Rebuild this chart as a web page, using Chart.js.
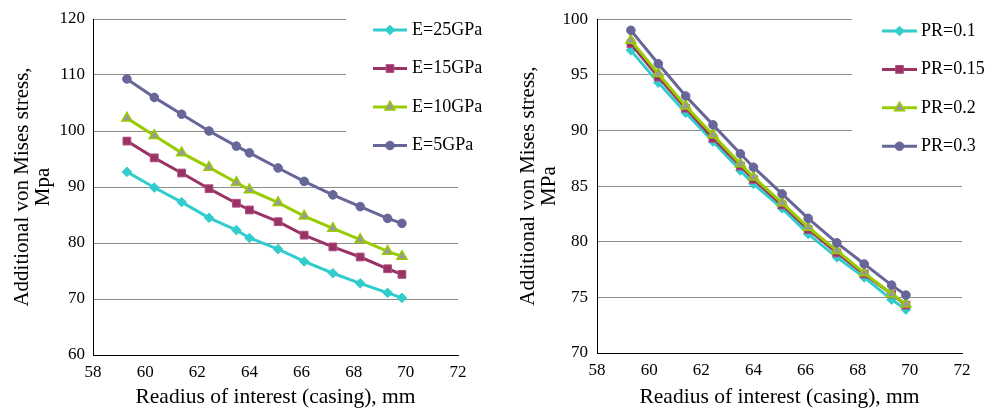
<!DOCTYPE html>
<html>
<head>
<meta charset="utf-8">
<script src="https://cdn.jsdelivr.net/npm/chart.js@4/dist/chart.umd.min.js"></script>
<style>
  html, body { margin: 0; padding: 0; background: #ffffff; }
  #wrap { position: relative; width: 999px; height: 412px; }
  #c1 { position: absolute; left: 0; top: 0; }
  #c2 { position: absolute; left: 500px; top: 0; }
</style>
</head>
<body>
<div id="wrap">
  <canvas id="c1" width="500" height="412"></canvas>
  <canvas id="c2" width="499" height="412"></canvas>
</div>
<script>
// ---- data ----
const radius = [59.3, 60.35, 61.4, 62.45, 63.5, 64.0, 65.1, 66.1, 67.2, 68.25, 69.3, 69.85];

const leftLabels = ['E=25GPa', 'E=15GPa', 'E=10GPa', 'E=5GPa'];
const e25 = [92.7, 89.9, 87.3, 84.5, 82.3, 80.9, 78.9, 76.7, 74.6, 72.8, 71.1, 70.2];
const e15 = [98.2, 95.2, 92.5, 89.7, 87.1, 85.9, 83.8, 81.4, 79.3, 77.5, 75.4, 74.4];
const e10 = [102.3, 99.2, 96.1, 93.5, 90.8, 89.5, 87.2, 84.8, 82.6, 80.6, 78.5, 77.6];
const e5  = [109.3, 106.0, 103.0, 100.0, 97.3, 96.1, 93.4, 91.0, 88.6, 86.5, 84.4, 83.5];

const rightLabels = ['PR=0.1', 'PR=0.15', 'PR=0.2', 'PR=0.3'];
const pr01  = [97.2, 94.3, 91.6, 89.0, 86.4, 85.2, 83.0, 80.7, 78.6, 76.8, 74.8, 73.9];
const pr015 = [97.8, 94.8, 92.0, 89.3, 86.8, 85.6, 83.3, 81.1, 79.0, 77.1, 75.3, 74.3];
const pr02  = [98.1, 95.1, 92.2, 89.6, 87.0, 85.8, 83.5, 81.3, 79.2, 77.2, 75.3, 74.4];
const pr03  = [99.0, 96.0, 93.1, 90.5, 87.9, 86.7, 84.3, 82.1, 79.9, 78.0, 76.1, 75.2];

const xTitle = 'Readius of interest (casing), mm';
const leftYTitle = ['Additional von Mises stress,', 'Mpa'];
const rightYTitle = ['Additional von Mises stress,', 'MPa'];

// ---- styling ----
const FONT = '"Liberation Serif", "Times New Roman", Times, serif';
Chart.defaults.font.family = FONT;
Chart.defaults.color = '#000000';

const styles = [
  { color: '#33CCCC', fill: '#33CCCC', border: '#33CCCC', point: 'rectRot', r: 4.8, bw: 1 },
  { color: '#993366', fill: '#993366', border: '#B04C80', point: 'rect', r: 5.5, bw: 1 },
  { color: '#99CC00', fill: '#999999', border: '#99CC00', point: 'triangle', r: 5.8, bw: 1.5 },
  { color: '#666699', fill: '#666699', border: '#666699', point: 'circle', r: 4.3, bw: 1 }
];

function makeDatasets(labels, series) {
  return series.map((vals, i) => {
    const s = styles[i];
    return {
      label: labels[i],
      data: vals.map((v, j) => ({ x: radius[j], y: v })),
      borderColor: s.color,
      backgroundColor: s.fill,
      borderWidth: 3,
      pointStyle: s.point,
      pointRadius: s.r,
      pointBackgroundColor: s.fill,
      pointBorderColor: s.border,
      pointBorderWidth: s.bw,
      tension: 0,
      order: series.length - i,
      _style: s
    };
  });
}

const boxLegend = {
  id: 'boxLegend',
  beforeDatasetsDraw(chart) {
    const o = chart.options.plugins.boxLegend;
    if (!o) return;
    const ctx = chart.ctx;
    ctx.save();
    ctx.fillStyle = '#ffffff';
    ctx.fillRect(o.bgX, 0, chart.width - o.bgX, o.bgBottom);
    ctx.restore();
  },
  afterDraw(chart) {
    const o = chart.options.plugins.boxLegend;
    if (!o) return;
    const ctx = chart.ctx;
    ctx.save();
    chart.data.datasets.forEach((ds, i) => {
      const s = ds._style;
      const y = o.y0 + i * o.dy;
      ctx.strokeStyle = s.color;
      ctx.lineWidth = 3;
      ctx.beginPath();
      ctx.moveTo(o.x0, y);
      ctx.lineTo(o.x1, y);
      ctx.stroke();
      ctx.fillStyle = s.fill;
      ctx.strokeStyle = s.border;
      ctx.lineWidth = s.bw;
      Chart.helpers.drawPoint(ctx, { pointStyle: s.point, radius: s.r, borderWidth: s.bw, rotation: 0 }, (o.x0 + o.x1) / 2, y);
      ctx.fillStyle = '#000000';
      ctx.font = '18px ' + FONT;
      ctx.textBaseline = 'middle';
      ctx.textAlign = 'left';
      ctx.fillText(ds.label, o.tx, y);
    });
    ctx.restore();
  }
};

function makeChart(id, datasets, yMin, yMax, yStep, yTitle, lay) {
  return new Chart(document.getElementById(id), {
    type: 'line',
    data: { datasets },
    plugins: [boxLegend],
    options: {
      responsive: false,
      animation: false,
      devicePixelRatio: 1,
      layout: { padding: { left: 0, top: lay.top, right: lay.right, bottom: 0 } },
      plugins: {
        legend: { display: false },
        tooltip: { enabled: false },
        boxLegend: lay.legend
      },
      scales: {
        x: {
          type: 'linear',
          min: 58, max: 72,
          ticks: { stepSize: 2, padding: 7, font: { size: 17 }, color: '#000' },
          grid: { display: false, drawTicks: false },
          border: { display: true, color: '#000000', width: 1 },
          title: { display: true, text: xTitle, font: { size: 21.5, lineHeight: 1 }, color: '#000', padding: { top: 0, bottom: 4 } },
          afterFit(scale) { scale.height = lay.xh; }
        },
        y: {
          type: 'linear',
          min: yMin, max: yMax,
          ticks: { stepSize: yStep, padding: lay.ypad, font: { size: 17 }, color: '#000' },
          grid: {
            drawTicks: false,
            lineWidth: 1,
            color: (c) => (c.tick && c.tick.value === yMin) ? 'rgba(0,0,0,0)' : '#8C8C8C'
          },
          border: { display: true, color: '#000000', width: 1 },
          title: { display: true, text: yTitle, font: { size: 21, lineHeight: 1 }, color: '#000', padding: { top: lay.ytp, bottom: 0 } },
          afterFit(scale) { scale.width = lay.yw; }
        }
      }
    }
  });
}

makeChart('c1', makeDatasets(leftLabels, [e25, e15, e10, e5]), 60, 120, 10, leftYTitle, {
  top: 19, right: 42, xh: 57, yw: 93, ypad: 8, ytp: 11.5,
  legend: { bgX: 346, bgBottom: 172, x0: 373, x1: 407, tx: 412, y0: 30, dy: 38.5 }
});

makeChart('c2', makeDatasets(rightLabels, [pr01, pr015, pr02, pr03]), 70, 100, 5, rightYTitle, {
  top: 17, right: 37, xh: 59, yw: 97, ypad: 9, ytp: 17.5,
  legend: { bgX: 352, bgBottom: 170, x0: 382, x1: 417, tx: 421, y0: 31, dy: 38.4 }
});
</script>
</body>
</html>
